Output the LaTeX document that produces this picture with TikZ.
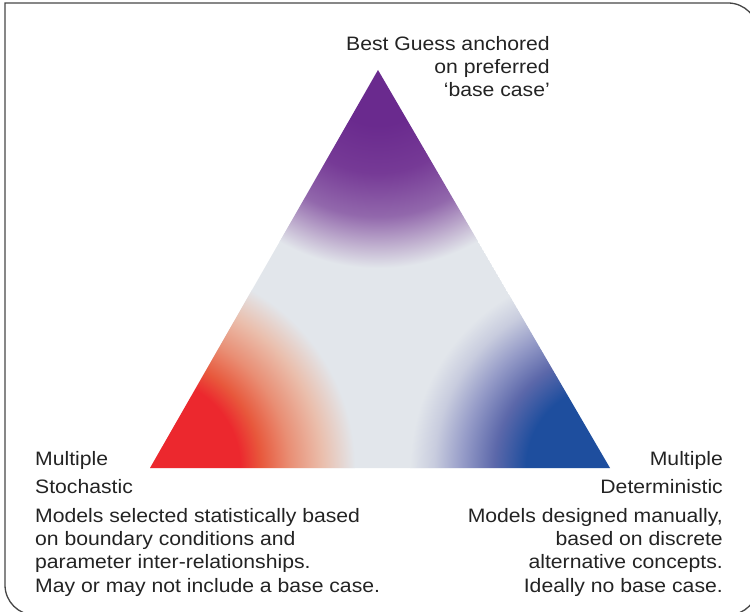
\documentclass[tikz,border=0pt]{standalone}
\usepackage{fontspec}
\setmainfont{Liberation Sans}[FakeStretch=1.09]
\usepackage{xcolor}
\usetikzlibrary{positioning}

\definecolor{bgGray}{RGB}{226,230,235}
\definecolor{textGray}{RGB}{35,35,35}
\definecolor{frameGray}{RGB}{70,70,70}
\definecolor{redA}{RGB}{236,40,46}
\definecolor{redB}{RGB}{232,88,60}
\definecolor{redC}{RGB}{233,142,116}
\definecolor{redD}{RGB}{234,190,172}
\definecolor{blueA}{RGB}{30,78,158}
\definecolor{blueB}{RGB}{92,104,170}
\definecolor{blueC}{RGB}{150,156,200}
\definecolor{blueD}{RGB}{200,204,222}
\definecolor{purpleA}{RGB}{106,42,142}
\definecolor{purpleB}{RGB}{118,58,150}
\definecolor{purpleC}{RGB}{146,104,172}
\definecolor{purpleD}{RGB}{196,182,210}

% radius of the shaded circle = 25bp
\pgfdeclareradialshading{redfade}{\pgfpoint{0bp}{0bp}}{color(0bp)=(redA); color(11bp)=(redA); color(13.5bp)=(redB); color(17bp)=(redC); color(21bp)=(redD); color(25bp)=(bgGray); color(50bp)=(bgGray)}
\pgfdeclareradialshading{bluefade}{\pgfpoint{0bp}{0bp}}{color(0bp)=(blueA); color(10.5bp)=(blueA); color(14.5bp)=(blueB); color(18.5bp)=(blueC); color(22bp)=(blueD); color(25bp)=(bgGray); color(50bp)=(bgGray)}
\pgfdeclareradialshading{purplefade}{\pgfpoint{0bp}{0bp}}{color(0bp)=(purpleA); color(7bp)=(purpleA); color(13bp)=(purpleB); color(18.5bp)=(purpleC); color(22.5bp)=(purpleD); color(25bp)=(bgGray); color(50bp)=(bgGray)}

\begin{document}
\begin{tikzpicture}[x=1bp, y=-1bp,
    frame/.style={draw=frameGray, line width=1.3bp, rounded corners=30bp, line cap=rect},
    cornertitle/.style={font=\fontsize{19.5}{28}\selectfont, text=textGray, inner sep=0pt},
    cornertext/.style={font=\fontsize{19.5}{23.3}\selectfont, text=textGray, inner sep=0pt}
]
    \useasboundingbox (0,0) rectangle (750,612);
    \draw [frame] (5,3) -- (758,3) -- (758,615) -- (5,615) -- (5,3);

    % triangle corners
    \coordinate (apex) at (378,70);
    \coordinate (lcorner) at (150,468);
    \coordinate (rcorner) at (610,468);

    \begin{scope}
        \clip (apex) -- (lcorner) -- (rcorner) -- cycle;
        \fill [bgGray] (apex) -- (lcorner) -- (rcorner) -- cycle;
        \shade [shading=purplefade] (apex) circle [radius=198bp];
        \shade [shading=redfade] (lcorner) circle [radius=205bp];
        \shade [shading=bluefade] (rcorner) circle [radius=200bp];
    \end{scope}

    % base anchor = last line of the node
    \node (bestguess) [cornertext, anchor=base east, align=right] at (550,97) {Best Guess anchored\\on preferred\\‘base case’};

    \node (stochtitle) [cornertitle, anchor=base west, align=left] at (35,493) {Multiple\\Stochastic};
    \node (stochtext) [cornertext, anchor=base west, align=left] at (35,592) {Models selected statistically based\\on boundary conditions and\\parameter inter-relationships.\\May or may not include a base case.};

    \node (dettitle) [cornertitle, anchor=base east, align=right] at (723,493) {Multiple\\Deterministic};
    \node (dettext) [cornertext, anchor=base east, align=right] at (723,592) {Models designed manually,\\based on discrete\\alternative concepts.\\Ideally no base case.};
\end{tikzpicture}
\end{document}
